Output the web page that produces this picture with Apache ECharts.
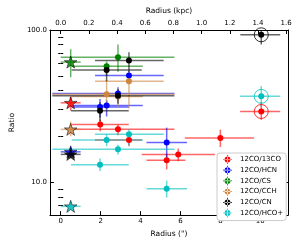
<!DOCTYPE html>
<html><head><meta charset="utf-8">
<script src="https://cdn.jsdelivr.net/npm/echarts@6/dist/echarts.min.js"></script>
<style>html,body{margin:0;padding:0;background:#fff}#c{width:299px;height:243px}</style>
</head><body><div id="c"></div>
<script>
// rows: [radius ("), ratio, radius low, radius high, ratio low, ratio high]
const names = ['12CO/13CO','12CO/HCN','12CO/CS','12CO/CCH','12CO/CN','12CO/HCO+'];
const colors = ['#ff0000','#0000ff','#008000','#cd853f','#000000','#00bfbf'];

const centre13CO = [[0.5,33.2,0,1.0,29.5,36.5]];
const inner13CO  = [[1.98,23.9,0.55,3.41,21.6,25.8],[2.87,22.2,0.52,5.70,20.3,23.9],[3.42,18.9,1.72,4.08,17.2,20.2],
                    [5.31,13.9,4.30,6.25,12.1,15.4],[5.89,15.2,4.06,7.73,13.7,16.6],[8.00,19.5,6.22,9.69,17.0,22.1]];
const outer13CO  = [[10.05,29.1,8.99,11.0,25.6,33.5]];

const centreHCN = [[0.5,15.8,0,1.0,14.9,16.8]];
const innerHCN  = [[1.97,31.2,0.55,3.41,26.5,35.2],[2.30,31.9,0.55,4.11,27.0,34.5],[2.87,38.2,-0.42,5.70,34.5,42.0],
                   [3.42,50.2,1.72,5.16,47.0,53.5],[5.31,18.2,4.30,6.33,14.0,22.8]];
const outerHCN  = [];

const centreCS = [[0.5,61.5,0,1.0,48.9,74.7]];
const innerCS  = [[2.30,57.7,0.55,4.11,50.0,62.1],[2.87,66.2,0.0,5.70,53.2,80.4]];
const outerCS  = [];

const centreCCH = [[0.5,22.2,0,1.0,20.0,25.0]];
const innerCCH  = [[2.30,37.8,-0.42,5.70,30.0,47.0],[2.87,36.5,0.55,4.11,31.0,41.0],[3.42,46.0,1.72,5.16,30.4,53.0]];
const outerCCH  = [];

const centreCN = [[0.5,15.2,0,1.0,14.3,16.1]];
const innerCN  = [[1.97,29.4,0.52,3.41,25.0,33.5],[2.30,54.5,0.55,4.06,46.0,57.7],[2.87,36.9,-0.42,5.70,32.7,40.7],
                  [3.42,63.0,1.72,5.16,53.0,71.5]];
const outerCN  = [[10.05,93.0,9.0,11.0,80.3,101.0]];

const centreHCO = [[0.5,6.92,0,1.0,6.6,7.3]];
const innerHCO  = [[1.97,13.0,0.52,3.41,11.8,14.3],[2.30,18.9,0.55,4.11,17.2,20.6],[2.87,16.4,-0.42,5.70,15.2,17.6],
                   [3.42,20.6,1.72,5.16,17.4,22.2],[5.31,9.04,4.30,6.33,7.9,10.2]];
const outerHCO  = [[10.05,36.6,8.99,11.0,31.2,42.7]];

const groups = [
  [centre13CO,inner13CO,outer13CO],[centreHCN,innerHCN,outerHCN],[centreCS,innerCS,outerCS],
  [centreCCH,innerCCH,outerCCH],[centreCN,innerCN,outerCN],[centreHCO,innerHCO,outerHCO]];

const arcsecTicks = [0,2,4,6,8,10];
const kpcTicks = [0.0,0.2,0.4,0.6,0.8,1.0,1.2,1.4,1.6];
const ratioMajor = [10,100];
const ratioMinor = [7,8,9,20,30,40,50,60,70,80,90];

const xMin = -0.54, xMax = 11.39, arcsecPerKpc = 7.06;
const yMin = 6.06, yMax = 100;
const L = Math.log10;

const font = 'DejaVu Sans';
function starPath(){
  const p=[];
  for(let k=0;k<10;k++){const r=k%2?0.382:1;const a=-Math.PI/2+k*Math.PI/5;p.push([(r*Math.cos(a)*50+50).toFixed(2),(r*Math.sin(a)*50+50).toFixed(2)]);}
  return 'path://M'+p.map(q=>q[0]+','+q[1]).join('L')+'Z';
}
const STAR = starPath();
const ICON = 'path://M0,9.2H20V10.8H0Z M9.2,0H10.8V20H9.2Z M3.5,10A6.5,6.5,0,1,0,16.5,10A6.5,6.5,0,1,0,3.5,10Z';

function toLog(rows){return rows.map(r=>[r[0],L(r[1]),r[2],r[3],L(r[4]),L(r[5])]);}

const series = [];
groups.forEach((g,i)=>{
  const col = colors[i];
  const all = toLog(g[0].concat(g[1],g[2]));
  series.push({
    type:'custom', name:names[i]+' err', data:all, clip:true, xAxisIndex:0, yAxisIndex:0,
    encode:{x:0,y:1},
    renderItem:function(params,api){
      const x=api.value(0),y=api.value(1);
      const pl=api.coord([api.value(2),y]), ph=api.coord([api.value(3),y]);
      const pb=api.coord([x,api.value(4)]), pt=api.coord([x,api.value(5)]);
      return {type:'group',children:[
        {type:'line',shape:{x1:pl[0],y1:pl[1],x2:ph[0],y2:ph[1]},style:{stroke:col,lineWidth:1.5,opacity:0.6}},
        {type:'line',shape:{x1:pb[0],y1:pb[1],x2:pt[0],y2:pt[1]},style:{stroke:col,lineWidth:1.5,opacity:0.6}}
      ]};
    }
  });
  series.push({type:'scatter',name:names[i]+' ring',data:toLog(g[2]).map(r=>[r[0],r[1]]),symbol:'circle',symbolSize:14,
    itemStyle:{color:'rgba(0,0,0,0)',borderColor:col,borderWidth:1},silent:true});
  series.push({type:'scatter',name:names[i],data:toLog(g[1].concat(g[2])).map(r=>[r[0],r[1]]),symbol:'circle',symbolSize:6,
    itemStyle:{color:col,opacity:1}});
  series.push({type:'scatter',name:names[i]+' star',data:toLog(g[0]).map(r=>[r[0],r[1]]),symbol:STAR,symbolSize:[12.5,12],
    itemStyle:{color:col,borderColor:'#000',borderWidth:0.7}});
});

const tickStyle = {color:'#000',width:1};
const lblStyle = {color:'#000',fontSize:7,fontFamily:font};
const option = {
  animation:false,
  backgroundColor:'#fff',
  grid:{left:34,right:11,top:30,bottom:20},
  xAxis:[
    {type:'value',min:xMin,max:xMax,position:'bottom',
     axisLine:{onZero:false,lineStyle:{color:'#000',width:1}},
     axisTick:{inside:true,length:4,lineStyle:tickStyle,customValues:arcsecTicks},
     axisLabel:{customValues:arcsecTicks,margin:3,...lblStyle,formatter:v=>String(v)},
     splitLine:{show:false},
     name:'Radius (")',nameLocation:'middle',nameGap:13,nameTextStyle:{color:'#000',fontSize:7.5,fontFamily:font}},
    {type:'value',min:xMin/arcsecPerKpc,max:xMax/arcsecPerKpc,position:'top',
     axisLine:{onZero:false,lineStyle:{color:'#000',width:1}},
     axisTick:{inside:true,length:4,lineStyle:tickStyle,customValues:kpcTicks},
     axisLabel:{customValues:kpcTicks,margin:3,...lblStyle,formatter:v=>v.toFixed(1)},
     splitLine:{show:false},
     name:'Radius (kpc)',nameLocation:'middle',nameGap:12,nameTextStyle:{color:'#000',fontSize:7.5,fontFamily:font}}
  ],
  yAxis:[
    {type:'value',min:L(yMin),max:L(yMax),position:'left',
     axisLine:{onZero:false,lineStyle:{color:'#000',width:1}},
     axisTick:{inside:true,length:4,lineStyle:tickStyle,customValues:ratioMajor.map(L)},
     axisLabel:{customValues:ratioMajor.map(L),margin:3,...lblStyle,formatter:v=>Math.pow(10,v).toFixed(1)},
     splitLine:{show:false},
     name:'Ratio',nameLocation:'middle',nameGap:25,nameTextStyle:{color:'#000',fontSize:7.5,fontFamily:font}},
    {type:'value',min:L(yMin),max:L(yMax),position:'left',
     axisLine:{show:false},
     axisTick:{inside:true,length:2.5,lineStyle:tickStyle,customValues:ratioMinor.map(L)},
     axisLabel:{show:false},splitLine:{show:false}},
    {type:'value',min:L(yMin),max:L(yMax),position:'right',
     axisLine:{onZero:false,lineStyle:{color:'#000',width:1}},
     axisTick:{inside:true,length:4,lineStyle:tickStyle,customValues:ratioMajor.map(L)},
     axisLabel:{show:false},splitLine:{show:false}},
    {type:'value',min:L(yMin),max:L(yMax),position:'right',
     axisLine:{show:false},
     axisTick:{inside:true,length:2.5,lineStyle:tickStyle,customValues:ratioMinor.map(L)},
     axisLabel:{show:false},splitLine:{show:false}}
  ],
  legend:{
    data:names.map((n,i)=>({name:n,icon:ICON,itemStyle:{color:colors[i]}})),
    orient:'vertical',left:217,top:153,itemWidth:9,itemHeight:9,itemGap:1.7,
    padding:[2,3,3,6],backgroundColor:'#fff',borderColor:'#cccccc',borderWidth:1,borderRadius:3,
    textStyle:{color:'#000',fontSize:7,fontFamily:font,padding:[0,0,0,3]},
    selectedMode:false
  },
  series:series
};
echarts.init(document.getElementById('c'),null,{renderer:'canvas'}).setOption(option);
</script></body></html>
